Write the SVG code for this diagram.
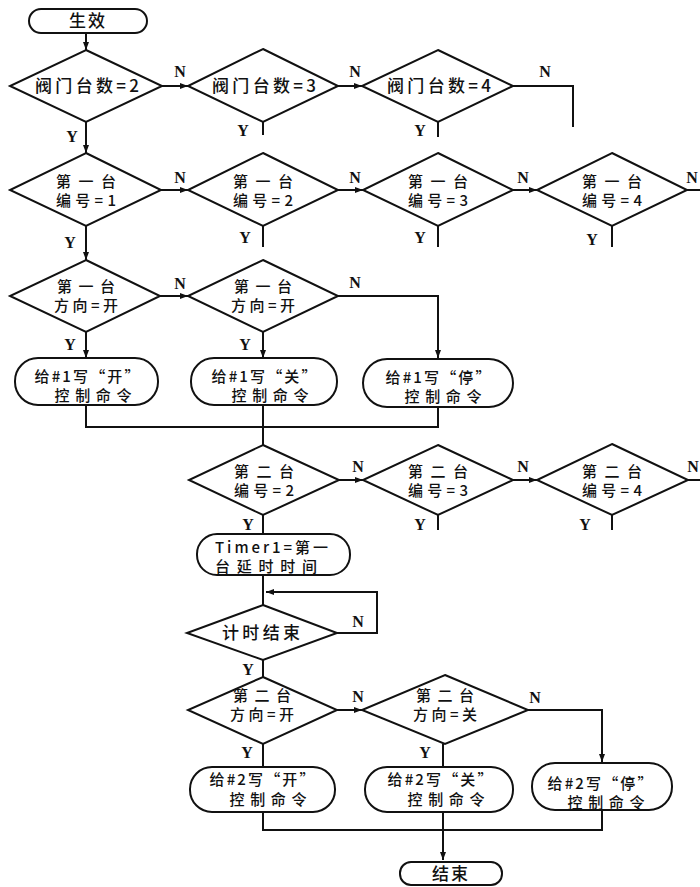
<svg xmlns="http://www.w3.org/2000/svg" width="700" height="887" viewBox="0 0 700 887">
<defs>
<marker id="ah" markerWidth="8" markerHeight="6" refX="8" refY="3" orient="auto" markerUnits="userSpaceOnUse">
<path d="M0,0 L8,3 L0,6 Z" fill="#111"/>
</marker>
<style>
.s{fill:#fff;stroke:#111;stroke-width:2}
.c{fill:none;stroke:#111;stroke-width:2}
.t{font-family:"Noto Sans CJK SC","Liberation Serif",serif;font-size:15px;font-weight:500;fill:#111;text-anchor:middle}
.big{font-size:17px}
.l{font-family:"Liberation Serif","Noto Sans CJK SC",serif;font-size:16px;font-weight:bold;fill:#111;text-anchor:middle}
</style>
</defs>
<rect width="700" height="887" fill="#fff"/>
<g id="connectors">
<path class="c" d="M86,33 V50" marker-end="url(#ah)"/>
<path class="c" d="M162,86 H188" marker-end="url(#ah)"/>
<path class="c" d="M338,86 H362" marker-end="url(#ah)"/>
<path class="c" d="M513,86 H573 V127"/>
<path class="c" d="M86,122 V153" marker-end="url(#ah)"/>
<path class="c" d="M263,122 V135"/>
<path class="c" d="M438,122 V137"/>
<path class="c" d="M161,190 H188" marker-end="url(#ah)"/>
<path class="c" d="M338,190 H363" marker-end="url(#ah)"/>
<path class="c" d="M513,190 H537" marker-end="url(#ah)"/>
<path class="c" d="M687,190 H700"/>
<path class="c" d="M86,226 V260" marker-end="url(#ah)"/>
<path class="c" d="M263,226 V247"/>
<path class="c" d="M438,226 V247"/>
<path class="c" d="M612,226 V247"/>
<path class="c" d="M160,296 H188" marker-end="url(#ah)"/>
<path class="c" d="M338,296 H438 V358" marker-end="url(#ah)"/>
<path class="c" d="M86,332 V358" marker-end="url(#ah)"/>
<path class="c" d="M263,332 V358" marker-end="url(#ah)"/>
<path class="c" d="M86,405 V427 H438 V407"/>
<path class="c" d="M263,405 V445"/>
<path class="c" d="M339,480 H363" marker-end="url(#ah)"/>
<path class="c" d="M513,480 H537" marker-end="url(#ah)"/>
<path class="c" d="M688,480 H700"/>
<path class="c" d="M263,515 V534"/>
<path class="c" d="M438,515 V530"/>
<path class="c" d="M612,515 V530"/>
<path class="c" d="M263,575 V605"/>
<path class="c" d="M337,633 H377 V592 H266" marker-end="url(#ah)"/>
<path class="c" d="M263,660 V677"/>
<path class="c" d="M337,710 H362" marker-end="url(#ah)"/>
<path class="c" d="M528,710 H602 V762" marker-end="url(#ah)"/>
<path class="c" d="M263,744 V767"/>
<path class="c" d="M443,744 V767"/>
<path class="c" d="M263,812 V830 H602 V810"/>
<path class="c" d="M443,812 V860" marker-end="url(#ah)"/>
</g>
<g id="labels">
<text class="l" x="180" y="77">N</text>
<text class="l" x="355" y="77">N</text>
<text class="l" x="545" y="77">N</text>
<text class="l" x="72" y="142">Y</text>
<text class="l" x="243" y="136">Y</text>
<text class="l" x="420" y="136">Y</text>
<text class="l" x="180" y="183">N</text>
<text class="l" x="355" y="183">N</text>
<text class="l" x="523" y="183">N</text>
<text class="l" x="692" y="183">N</text>
<text class="l" x="70" y="248">Y</text>
<text class="l" x="245" y="243">Y</text>
<text class="l" x="420" y="243">Y</text>
<text class="l" x="592" y="245">Y</text>
<text class="l" x="180" y="289">N</text>
<text class="l" x="355" y="288">N</text>
<text class="l" x="70" y="350">Y</text>
<text class="l" x="245" y="350">Y</text>
<text class="l" x="358" y="472">N</text>
<text class="l" x="523" y="472">N</text>
<text class="l" x="693" y="472">N</text>
<text class="l" x="248" y="530">Y</text>
<text class="l" x="420" y="530">Y</text>
<text class="l" x="585" y="530">Y</text>
<text class="l" x="358" y="627">N</text>
<text class="l" x="248" y="675">Y</text>
<text class="l" x="358" y="702">N</text>
<text class="l" x="535" y="703">N</text>
<text class="l" x="247" y="758">Y</text>
<text class="l" x="425" y="758">Y</text>
</g>
<g id="start">
<rect class="s" x="29" y="9" width="118" height="24" rx="12"/>
<text class="t big" x="88" y="27" letter-spacing="2">生效</text>
</g>
<g id="d-num2">
<polygon class="s" points="86,50 162,86 86,122 10,86"/>
<text class="t big" x="87" y="92" textLength="104">阀门台数=2</text>
</g>
<g id="d-num3">
<polygon class="s" points="263,49 338,86 263,122 188,86"/>
<text class="t big" x="264" y="92" textLength="104">阀门台数=3</text>
</g>
<g id="d-num4">
<polygon class="s" points="438,50 513,86 438,122 362,86"/>
<text class="t big" x="439" y="92" textLength="104">阀门台数=4</text>
</g>
<g id="d-id1">
<polygon class="s" points="86,153 161,190 86,226 10,190"/>
<text class="t" x="86" y="187" textLength="60">第一台</text>
<text class="t" x="86" y="206" textLength="60">编号=1</text>
</g>
<g id="d-id2">
<polygon class="s" points="263,153 338,190 263,226 188,190"/>
<text class="t" x="263" y="187" textLength="60">第一台</text>
<text class="t" x="263" y="206" textLength="60">编号=2</text>
</g>
<g id="d-id3">
<polygon class="s" points="438,153 513,190 438,226 363,190"/>
<text class="t" x="438" y="187" textLength="60">第一台</text>
<text class="t" x="438" y="206" textLength="60">编号=3</text>
</g>
<g id="d-id4">
<polygon class="s" points="612,153 687,190 612,226 537,190"/>
<text class="t" x="612" y="187" textLength="60">第一台</text>
<text class="t" x="612" y="206" textLength="60">编号=4</text>
</g>
<g id="d-dir1">
<polygon class="s" points="86,260 160,296 86,332 10,296"/>
<text class="t" x="86" y="292" textLength="58">第一台</text>
<text class="t" x="86" y="311" textLength="64">方向=开</text>
</g>
<g id="d-dir1b">
<polygon class="s" points="263,260 338,296 263,332 188,296"/>
<text class="t" x="263" y="292" textLength="58">第一台</text>
<text class="t" x="263" y="311" textLength="64">方向=开</text>
</g>
<g id="t-open1">
<rect class="s" x="15" y="358" width="143" height="47" rx="23"/>
<text class="t" x="87" y="382" textLength="105">给#1写“开”</text>
<text class="t" x="93" y="401" textLength="77">控制命令</text>
</g>
<g id="t-close1">
<rect class="s" x="191" y="358" width="146" height="47" rx="23"/>
<text class="t" x="264" y="382" textLength="105">给#1写“关”</text>
<text class="t" x="270" y="401" textLength="77">控制命令</text>
</g>
<g id="t-stop1">
<rect class="s" x="363" y="359" width="150" height="48" rx="24"/>
<text class="t" x="438" y="383" textLength="105">给#1写“停”</text>
<text class="t" x="443" y="402" textLength="77">控制命令</text>
</g>
<g id="d2-id2">
<polygon class="s" points="263,445 339,480 263,515 189,480"/>
<text class="t" x="264" y="477" textLength="60">第二台</text>
<text class="t" x="264" y="496" textLength="60">编号=2</text>
</g>
<g id="d2-id3">
<polygon class="s" points="438,445 513,480 438,515 363,480"/>
<text class="t" x="438" y="477" textLength="60">第二台</text>
<text class="t" x="438" y="496" textLength="60">编号=3</text>
</g>
<g id="d2-id4">
<polygon class="s" points="612,444 688,480 612,515 537,480"/>
<text class="t" x="612" y="477" textLength="60">第二台</text>
<text class="t" x="612" y="496" textLength="60">编号=4</text>
</g>
<g id="t-timer">
<rect class="s" x="197" y="534" width="153" height="41" rx="20"/>
<text class="t" x="215" y="553" style="text-anchor:start" textLength="113">Timer1=第一</text>
<text class="t" x="215" y="572" style="text-anchor:start" textLength="102">台延时时间</text>
</g>
<g id="d-timeup">
<polygon class="s" points="263,605 337,633 263,660 187,633"/>
<text class="t big" x="261" y="639" textLength="78">计时结束</text>
</g>
<g id="d2-dir-open">
<polygon class="s" points="263,677 337,710 263,744 188,710"/>
<text class="t" x="262" y="701" textLength="58">第二台</text>
<text class="t" x="262" y="720" textLength="64">方向=开</text>
</g>
<g id="d2-dir-close">
<polygon class="s" points="445,675 528,710 445,744 362,710"/>
<text class="t" x="445" y="701" textLength="58">第二台</text>
<text class="t" x="445" y="720" textLength="64">方向=关</text>
</g>
<g id="t-open2">
<rect class="s" x="190" y="767" width="145" height="45" rx="22"/>
<text class="t" x="262" y="785" textLength="105">给#2写“开”</text>
<text class="t" x="268" y="805" textLength="77">控制命令</text>
</g>
<g id="t-close2">
<rect class="s" x="365" y="767" width="148" height="45" rx="22"/>
<text class="t" x="440" y="785" textLength="105">给#2写“关”</text>
<text class="t" x="446" y="805" textLength="77">控制命令</text>
</g>
<g id="t-stop2">
<rect class="s" x="532" y="763" width="140" height="47" rx="23"/>
<text class="t" x="600" y="789" textLength="105">给#2写“停”</text>
<text class="t" x="606" y="808" textLength="77">控制命令</text>
</g>
<g id="end">
<rect class="s" x="400" y="862" width="102" height="23" rx="11"/>
<text class="t big" x="451" y="880" letter-spacing="2">结束</text>
</g>
</svg>
